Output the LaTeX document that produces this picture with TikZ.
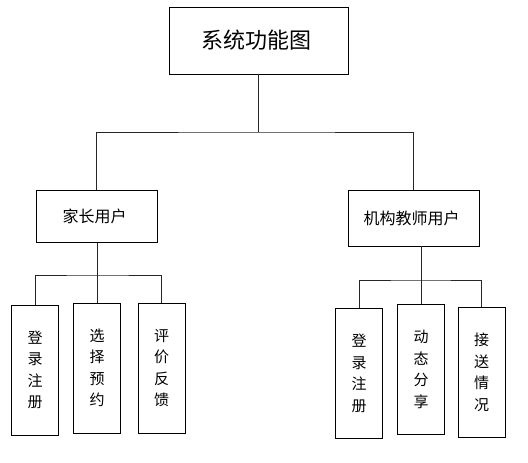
\documentclass[tikz,border=0pt]{standalone}
\usepackage{fontspec}
\newfontfamily\cjk{Noto Sans CJK SC}
\usetikzlibrary{positioning}

\begin{document}
\begin{tikzpicture}[x=1pt, y=-1pt,
    every node/.style = { draw, thick, align = center, shape = rectangle, font = \cjk },
    topbox/.style = { minimum width = 179pt, minimum height = 67pt, font = \cjk\fontsize{22}{24}\selectfont },
    userbox/.style = { minimum height = 52pt, font = \cjk\fontsize{16}{19}\selectfont },
    funcbox/.style = { minimum width = 47pt, minimum height = 130pt, font = \cjk\fontsize{15}{21.5}\selectfont },
    bus/.style = { draw = black!85, line width = 0.9pt }]
    \useasboundingbox (0,0) rectangle (528,463);
    	 \node [topbox] (sys) at (258.5,40.5) { 系统功能图 };
      \node [userbox, minimum width = 121pt] (parent) at (96.5,216.5) { 家长用户 };
      \node [userbox, minimum width = 131pt, minimum height = 56pt] (teacher) at (413.5,218) { 机构教师用户 };
      % parent side
      \node [funcbox] (p1) at (35,370) { 登\\录\\注\\册 };
      \node [funcbox] (p2) at (97,368) { 选\\择\\预\\约 };
      \node [funcbox] (p3) at (161.5,368) { 评\\价\\反\\馈 };
      % teacher side
      \node [funcbox] (t1) at (359,373.5) { 登\\录\\注\\册 };
      \node [funcbox] (t2) at (421,369.5) { 动\\态\\分\\享 };
      \node [funcbox] (t3) at (481.5,372.5) { 接\\送\\情\\况 };

      \coordinate (bus0) at (258.5,132);
      \coordinate (bus1) at (97,275);
      \coordinate (bus2) at (421,280);
      \draw [bus] (sys.south) -- (bus0);
      \draw [bus] (parent.north) |- (bus0) -| (teacher.north);
      \draw [bus] (bus1 |- parent.south) -- (p2.north);
      \draw [bus] (p1.north) |- (bus1) -| (p3.north);
      \draw [bus] (bus2 |- teacher.south) -- (t2.north);
      \draw [bus] (t1.north) |- (bus2) -| (t3.north);
    \end{tikzpicture}
\end{document}
